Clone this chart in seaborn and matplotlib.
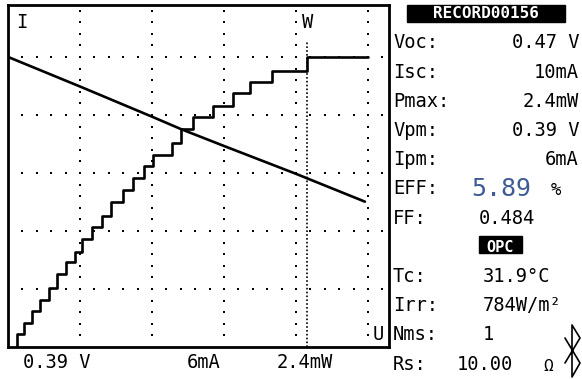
import numpy as np
import matplotlib
matplotlib.use("Agg")
import matplotlib.pyplot as plt
import seaborn as sns
from matplotlib.patches import Rectangle
from matplotlib.lines import Line2D

W, H = 582, 379

# ── Données lues sur l'écran du testeur ───────────────────────
# courbe I-V (mA en fonction de V)
iv_volt = [0.0, 0.094, 0.188, 0.226, 0.282, 0.376, 0.390, 0.466]
iv_curr = [10.0, 8.98, 7.94, 7.51, 6.93, 5.97, 5.82, 5.01]

# courbe P-V en escalier (mW en fonction de V)
pv_volt = [0.012, 0.012, 0.021, 0.031, 0.042, 0.054, 0.064, 0.076, 0.088,
           0.097, 0.110, 0.123, 0.135, 0.150, 0.163, 0.178, 0.189, 0.214,
           0.226, 0.242, 0.268, 0.294, 0.316, 0.345, 0.390, 0.470]
pv_power = [0.0, 0.11, 0.20, 0.30, 0.39, 0.49, 0.60, 0.70, 0.79,
            0.89, 0.99, 1.08, 1.20, 1.30, 1.40, 1.50, 1.59, 1.69,
            1.80, 1.90, 1.99, 2.10, 2.19, 2.28, 2.40, 2.40]

vpm = 0.39
record = "RECORD00156"
row_labels = ["Voc:", "Isc:", "Pmax:", "Vpm:", "Ipm:", "EFF:", "FF:",
              None, "Tc:", "Irr:", "Nms:", "Rs:"]
top_values = ["0.47 V", "10mA", "2.4mW", "0.39 V", "6mA"]
eff_value = "5.89"
ff_value = "0.484"
mode_tag = "OPC"
low_values = ["31.9°C", "784W/m²", "1"]
rs_value = "10.00"
bottom_texts = ["0.39 V", "6mA", "2.4mW"]

# échelles de l'écran
V_MAX, I_MAX = 0.4974, 11.79
V_DIV, I_DIV = 0.094, 2.0
P_PER_MA = 0.24

MONO = "DejaVu Sans Mono"
FS = 13.5
TXT = dict(fontsize=FS, color="black", va="center")


def fx(x):
    return x / W


def fy(y):
    return 1 - y / H


sns.set_style("white")
plt.rcParams["font.family"] = [MONO, "DejaVu Sans"]
plt.rcParams["text.color"] = "black"

fig = plt.figure(figsize=(W / 100, H / 100), dpi=100)
ax = fig.add_axes([fx(8), fy(347), (389 - 8) / W, (347 - 5) / H])
ax.set_xlim(0, V_MAX)
ax.set_ylim(0, I_MAX)
ax.set_xticks([])
ax.set_yticks([])
for sp in ax.spines.values():
    sp.set_visible(True)
    sp.set_color("black")
    sp.set_linewidth(2)

# ── grille pointillée ─────────────────────────────────────────
hx = np.arange(1, 27) * V_DIV / 5
for lvl in np.arange(1, 6) * I_DIV:
    ax.scatter(hx, np.full_like(hx, lvl), marker="s", s=2.2,
               color="black", linewidths=0, zorder=1)
vy = np.arange(1, 30) * I_DIV / 5
for vv in np.arange(1, 6) * V_DIV:
    ax.scatter(np.full_like(vy, vv), vy, marker="s", s=2.2,
               color="black", linewidths=0, zorder=1)

ax.vlines(vpm, 0, 10.5, colors="black", linewidth=1.2,
          linestyles=(0, (1, 1.3)), zorder=2)

# ── courbes ──────────────────────────────────────────────────
sns.lineplot(x=iv_volt, y=iv_curr, ax=ax, color="black", linewidth=1.9,
             estimator=None, sort=False, zorder=3)

ax2 = ax.twinx()
ax2.set_ylim(0, I_MAX * P_PER_MA)
sns.lineplot(x=pv_volt, y=pv_power, ax=ax2, color="black", linewidth=1.9,
             estimator=None, sort=False, drawstyle="steps-post", zorder=3)
ax2.set_xlim(0, V_MAX)
ax2.axis("off")

# repères d'axes
fig.text(fx(22), fy(22), "I", ha="center", **TXT)
fig.text(fx(308), fy(23), "W", ha="center", **TXT)
fig.text(fx(378), fy(334), "U", ha="center", **TXT)

# ── panneau de droite ────────────────────────────────────────
fig.patches.append(Rectangle((fx(407), fy(22)), 158 / W, 17 / H,
                             transform=fig.transFigure, color="black"))
fig.text(fx(486), fy(13.5), record, fontsize=11.5, color="white",
         fontweight="bold", ha="center", va="center")

row_y = [43 + 29.2 * k for k in range(12)]
for lab, yy in zip(row_labels, row_y):
    if lab:
        fig.text(fx(393), fy(yy), lab, ha="left", **TXT)

for val, yy in zip(top_values, row_y[:5]):
    fig.text(fx(579), fy(yy), val, ha="right", **TXT)

fig.text(fx(471), fy(row_y[5]), eff_value, fontsize=18, color="#3f5a96",
         va="center", ha="left")
fig.text(fx(551), fy(row_y[5] + 1), "%", fontsize=FS - 1, color="black",
         va="center", ha="left")
fig.text(fx(479), fy(row_y[6]), ff_value, ha="left", **TXT)

fig.patches.append(Rectangle((fx(479), fy(253)), 43 / W, 17 / H,
                             transform=fig.transFigure, color="black"))
fig.text(fx(500.5), fy(row_y[7]), mode_tag, fontsize=11, color="white",
         fontweight="bold", ha="center", va="center")

for val, yy in zip(low_values, row_y[8:11]):
    fig.text(fx(483), fy(yy), val, ha="left", **TXT)
fig.text(fx(457), fy(row_y[11]), rs_value, ha="left", **TXT)
fig.text(fx(548), fy(row_y[11] + 2), "Ω", fontsize=FS - 2, color="black",
         va="center", ha="center")

# symbole bluetooth
bt = [(565, 338), (580, 363), (572, 377), (572, 325), (580, 338), (565, 363)]
fig.lines.append(Line2D([fx(p[0]) for p in bt], [fy(p[1]) for p in bt],
                        transform=fig.transFigure, color="black",
                        linewidth=1.2))

# légende du bas
for txt, xx in zip(bottom_texts, [23, 187, 277]):
    fig.text(fx(xx), fy(362), txt, ha="left", **TXT)

fig.savefig("out.png", dpi=100, facecolor="white")
plt.close(fig)
